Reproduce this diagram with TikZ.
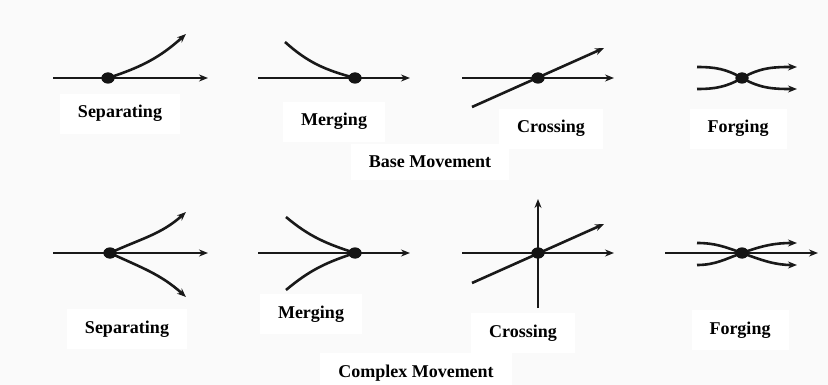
\documentclass[tikz,border=0pt]{standalone}
\usepackage{fontspec}
\setmainfont{Liberation Serif}
\usetikzlibrary{arrows.meta,shapes.geometric}
\definecolor{bgc}{gray}{0.982}
\begin{document}
\begin{tikzpicture}[x=1pt,y=-1pt,
  flow/.style={line width=2.6pt,draw=black!90},
  arr/.style={flow,-{Stealth[length=9pt,width=7pt]}},
  jdot/.style={ellipse,fill=black!92,inner sep=0pt,minimum width=13pt,minimum height=11pt},
  lbl/.style={anchor=base,fill=white,inner xsep=18pt,inner ysep=12pt,font=\bfseries\fontsize{18}{20}\selectfont}]
\fill[bgc] (0,0) rectangle (828,385);
\useasboundingbox (0,0) rectangle (828,385);

% labels
\node[lbl] (l1) at (120,118) {Separating};
\node[lbl] (l2) at (334,126) {Merging};
\node[lbl] (l3) at (551,133) {Crossing};
\node[lbl] (l4) at (738,133) {Forging};
\node[lbl] (l5) at (430,168) {Base Movement};
\node[lbl] (l6) at (127,333) {Separating};
\node[lbl] (l7) at (311,318) {Merging};
\node[lbl] (l8) at (523,337) {Crossing};
\node[lbl] (l9) at (740,334) {Forging};
\node[lbl] (l10) at (416,377) {Complex Movement};

% ---------- Base: Separating
\coordinate (s1a) at (53,78);
\coordinate (s1b) at (208,78);
\coordinate (s1c) at (186,34);
\node[jdot] (s1) at (108,78) {};
\draw[arr] (s1a) -- (s1b);
\draw[arr] (s1.center) to[out=18,in=222] (s1c);
\node[jdot] at (108,78) {};

% ---------- Base: Merging
\coordinate (m1a) at (258,78);
\coordinate (m1b) at (410,78);
\coordinate (m1c) at (285,42);
\node[jdot] (m1) at (355,78) {};
\draw[arr] (m1a) -- (m1b);
\draw[flow] (m1c) to[out=-42,in=165] (m1.center);
\node[jdot] at (355,78) {};

% ---------- Base: Crossing
\coordinate (c1a) at (462,78);
\coordinate (c1b) at (614,78);
\coordinate (c1c) at (472,107);
\coordinate (c1d) at (604,48);
\node[jdot] (c1) at (538,78) {};
\draw[arr] (c1a) -- (c1b);
\draw[arr] (c1c) -- (c1d);
\node[jdot] at (538,78) {};

% ---------- Base: Forging
\coordinate (f1a) at (697,67);
\coordinate (f1b) at (797,67);
\coordinate (f1c) at (697,89);
\coordinate (f1d) at (797,89);
\node[jdot] (f1) at (742,78) {};
\draw[arr] (f1a) to[out=0,in=150] (f1.center) to[out=30,in=180] (f1b);
\draw[arr] (f1c) to[out=0,in=210] (f1.center) to[out=-30,in=180] (f1d);
\node[jdot] at (742,78) {};

% ---------- Complex: Separating
\coordinate (s2a) at (53,253);
\coordinate (s2b) at (208,253);
\coordinate (s2c) at (186,212);
\coordinate (s2d) at (186,297);
\node[jdot] (s2) at (110,253) {};
\draw[arr] (s2a) -- (s2b);
\draw[arr] (s2.center) to[out=25,in=222] (s2c);
\draw[arr] (s2.center) to[out=-25,in=138] (s2d);
\node[jdot] at (110,253) {};

% ---------- Complex: Merging
\coordinate (m2a) at (258,253);
\coordinate (m2b) at (410,253);
\coordinate (m2c) at (286,217);
\coordinate (m2d) at (286,290);
\node[jdot] (m2) at (355,253) {};
\draw[arr] (m2a) -- (m2b);
\draw[flow] (m2c) to[out=-40,in=162] (m2.center);
\draw[flow] (m2d) to[out=40,in=198] (m2.center);
\node[jdot] at (355,253) {};

% ---------- Complex: Crossing
\coordinate (c2a) at (462,253);
\coordinate (c2b) at (614,253);
\coordinate (c2c) at (472,283);
\coordinate (c2d) at (604,224);
\coordinate (c2e) at (538,308);
\coordinate (c2f) at (538,199);
\node[jdot] (c2) at (538,253) {};
\draw[arr] (c2a) -- (c2b);
\draw[arr] (c2c) -- (c2d);
\draw[arr] (c2e) -- (c2f);
\node[jdot] at (538,253) {};

% ---------- Complex: Forging
\coordinate (f2a) at (665,253);
\coordinate (f2b) at (818,253);
\coordinate (f2c) at (697,243);
\coordinate (f2d) at (797,243);
\coordinate (f2e) at (697,265);
\coordinate (f2f) at (797,265);
\node[jdot] (f2) at (742,253) {};
\draw[arr] (f2a) -- (f2b);
\draw[arr] (f2c) to[out=0,in=160] (f2.center) to[out=20,in=180] (f2d);
\draw[arr] (f2e) to[out=0,in=200] (f2.center) to[out=-20,in=180] (f2f);
\node[jdot] at (742,253) {};
\end{tikzpicture}
\end{document}
